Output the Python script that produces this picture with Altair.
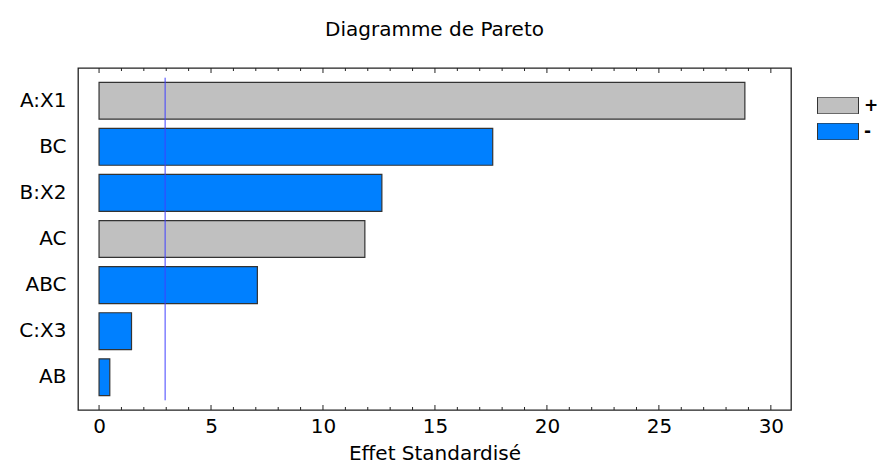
import altair as alt
import pandas as pd

# ---- data ----
effects = ["A:X1", "BC", "B:X2", "AC", "ABC", "C:X3", "AB"]
values = [28.84, 17.58, 12.63, 11.87, 7.07, 1.45, 0.48]
signs = ["+", "-", "-", "+", "-", "-", "-"]
critical = [2.95]
tick_values = list(range(0, 31))
major_ticks = [0, 5, 10, 15, 20, 25, 30]
legend_labels = ["+", "-"]
legend_colors = ["#c0c0c0", "#0080ff"]

# ---- layout constants ----
W, H = 713, 342
P_IN, P_OUT = 0.2, 0.31
FONT = "DejaVu Sans"
FS = 20
step = H / (len(effects) - P_IN + 2 * P_OUT)
rule_top = (P_OUT - P_IN / 2) * step
rule_bot = H - rule_top

df = pd.DataFrame({"effect": effects, "value": values, "sign": signs})
ticks = pd.DataFrame({"v": tick_values})
ticks["major"] = ticks["v"].isin(major_ticks)
crit = pd.DataFrame({"v": critical})

xscale = alt.Scale(domain=[-0.94, 30.9], nice=False, zero=False)

bars = alt.Chart(df).mark_bar(stroke="#333333", strokeWidth=1.2).encode(
    x=alt.X("value:Q", scale=xscale,
            axis=alt.Axis(title="Effet Standardisé", values=major_ticks, grid=False,
                          domain=False, ticks=False, labelPadding=6, titlePadding=7,
                          labelFontSize=FS, titleFontSize=FS, labelFont=FONT, titleFont=FONT,
                          labelColor="black", titleColor="black", titleFontWeight="normal",
                          format="d")),
    y=alt.Y("effect:N", sort=effects,
            scale=alt.Scale(paddingInner=P_IN, paddingOuter=P_OUT),
            axis=alt.Axis(title=None, ticks=False, domain=False, labelPadding=12,
                          labelFontSize=FS, labelFont=FONT, labelColor="black")),
    color=alt.Color("sign:N",
                    scale=alt.Scale(domain=legend_labels, range=legend_colors),
                    legend=alt.Legend(title=None, orient="none", legendX=739, legendY=29,
                                      symbolType="M-1,-0.41H1V0.41H-1Z", symbolSize=1681,
                                      symbolStrokeColor="#333333", symbolStrokeWidth=1,
                                      clipHeight=17, rowPadding=8, labelOffset=5,
                                      labelFontSize=17, labelFont=FONT, labelColor="black",
                                      labelFontWeight="bold", padding=0)),
)

def tick_layer(y0, y1, major):
    return alt.Chart(ticks).mark_rule(color="#222222", strokeWidth=1).encode(
        x=alt.X("v:Q", scale=xscale),
        y=alt.value(y0),
        y2=alt.value(y1),
    ).transform_filter("datum.major" if major else "!datum.major")

crit_rule = alt.Chart(crit).mark_rule(color="#4040ff", strokeWidth=1).encode(
    x=alt.X("v:Q", scale=xscale),
    y=alt.value(rule_top),
    y2=alt.value(rule_bot),
)

chart = alt.layer(
    bars, crit_rule,
    tick_layer(H, H - 3, False), tick_layer(H, H - 5, True),
    tick_layer(0, 3, False), tick_layer(0, 5, True),
).properties(
    width=W, height=H,
    title=alt.Title("Diagramme de Pareto", font=FONT, fontSize=FS, fontWeight="normal",
                    color="black", anchor="middle", offset=28),
    autosize=alt.AutoSizeParams(type="none"),
    padding={"left": 70, "top": 60, "right": 86, "bottom": 56},
).configure(
    background="white"
).configure_view(
    stroke="#222222", strokeWidth=1.3
)

chart.save("out.html", embed_options={"renderer": "svg", "actions": False})
